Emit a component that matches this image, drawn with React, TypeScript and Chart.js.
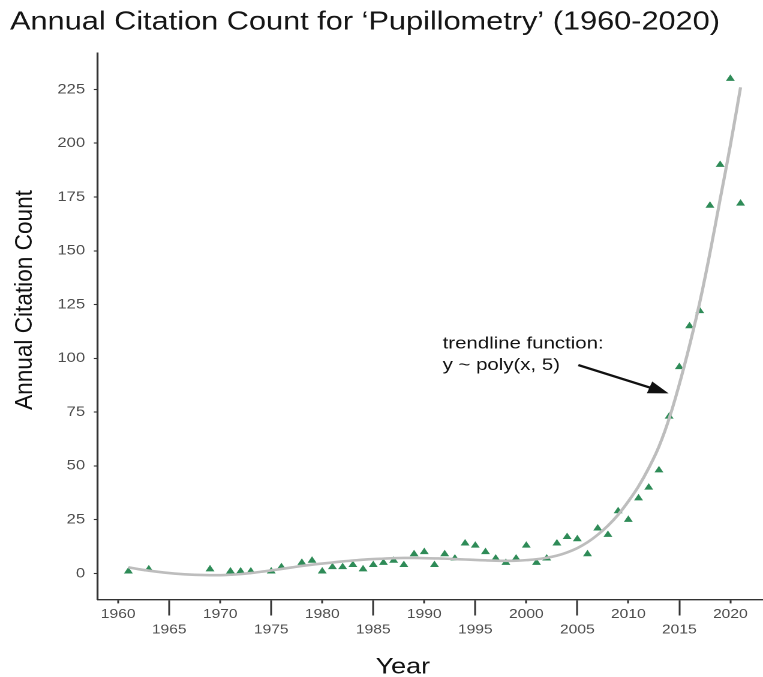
import React, { useEffect, useRef } from "react";
import { Chart, registerables } from "chart.js";

Chart.register(...registerables);

// Citation counts per publication year
const YEARS = [
  1961, 1963, 1969, 1971, 1972, 1973, 1975, 1976, 1978, 1979,
  1980, 1981, 1982, 1983, 1984, 1985, 1986, 1987, 1988, 1989,
  1990, 1991, 1992, 1993, 1994, 1995, 1996, 1997, 1998, 1999,
  2000, 2001, 2002, 2003, 2004, 2005, 2006, 2007, 2008, 2009,
  2010, 2011, 2012, 2013, 2014, 2015, 2016, 2017, 2018, 2019,
  2020, 2021,
];
const CITATIONS = [
  1, 2, 2, 1, 1, 1, 1, 3, 5, 6,
  1, 3, 3, 4, 2, 4, 5, 6, 4, 9,
  10, 4, 9, 7, 14, 13, 10, 7, 5, 7,
  13, 5, 7, 14, 17, 16, 9, 21, 18, 29,
  25, 35, 40, 48, 73, 96, 115, 122, 171, 190,
  230, 172,
];

// Fitted 5th-degree polynomial trend, sampled once per year
const TREND_YEARS = [
  1961, 1962, 1963, 1964, 1965, 1966, 1967, 1968, 1969, 1970,
  1971, 1972, 1973, 1974, 1975, 1976, 1977, 1978, 1979, 1980,
  1981, 1982, 1983, 1984, 1985, 1986, 1987, 1988, 1989, 1990,
  1991, 1992, 1993, 1994, 1995, 1996, 1997, 1998, 1999, 2000,
  2001, 2002, 2003, 2004, 2005, 2006, 2007, 2008, 2009, 2010,
  2011, 2012, 2013, 2014, 2015, 2016, 2017, 2018, 2019, 2020,
  2021,
];
const TREND_VALUES = [
  2.9, 2.0, 1.3, 0.7, 0.2, -0.2, -0.5, -0.7, -0.8, -0.8,
  -0.6, -0.3, 0.2, 0.8, 1.4, 2.1, 2.8, 3.5, 4.1, 4.6,
  5.1, 5.6, 6.0, 6.4, 6.7, 6.9, 7.1, 7.2, 7.2, 7.1,
  7.0, 6.9, 6.7, 6.5, 6.3, 6.1, 5.95, 5.9, 5.95, 6.2,
  6.6, 7.3, 8.3, 9.8, 11.8, 14.5, 18, 22.2, 27.3, 33.5,
  40.5, 49, 59, 72, 88, 106, 126, 149, 174, 199,
  226,
];

const X_TICKS = [1960, 1965, 1970, 1975, 1980, 1985, 1990, 1995, 2000, 2005, 2010, 2015, 2020];
const Y_TICKS = [0, 25, 50, 75, 100, 125, 150, 175, 200, 225];

const TITLE = "Annual Citation Count for ‘Pupillometry’ (1960-2020)";
const X_TITLE = "Year";
const Y_TITLE = "Annual Citation Count";
const NOTE_LINES = ["trendline function:", "y ~ poly(x, 5)"];
const NOTE_X = 1991.8;
const NOTE_Y = [104.6, 94.5];
const ARROW_FROM = [2005.1, 96.9];
const ARROW_TO = [2013.95, 83.7];

const FONT = '"Liberation Sans", Arial, Helvetica, sans-serif';

// The plot is laid out on a narrower canvas and widened horizontally.
const PAGE_W = 763;
const PAGE_H = 677;
const CANVAS_W = 636;
const STRETCH = PAGE_W / CANVAS_W;

const PAD_LEFT = 8.33;
const PLOT_LEFT = 81.5;
const PLOT_BOTTOM = 599.5;

const annotationPlugin = {
  id: "textAndArrow",
  afterDatasetsDraw(chart: any) {
    const { ctx } = chart;
    const xs = chart.scales.x;
    const ys = chart.scales.y;
    ctx.save();
    ctx.fillStyle = "#111";
    ctx.strokeStyle = "#111";

    // note text
    ctx.font = `17px ${FONT}`;
    ctx.textAlign = "left";
    ctx.textBaseline = "alphabetic";
    const nx = xs.getPixelForValue(NOTE_X);
    NOTE_LINES.forEach((t, i) => ctx.fillText(t, nx, ys.getPixelForValue(NOTE_Y[i])));

    // arrow pointing at the trend curve
    const x0 = xs.getPixelForValue(ARROW_FROM[0]);
    const y0 = ys.getPixelForValue(ARROW_FROM[1]);
    const x1 = xs.getPixelForValue(ARROW_TO[0]);
    const y1 = ys.getPixelForValue(ARROW_TO[1]);
    const ang = Math.atan2(y1 - y0, x1 - x0);
    const headLen = 17;
    const headHalf = 6.3;
    const bx = x1 - headLen * Math.cos(ang);
    const by = y1 - headLen * Math.sin(ang);
    ctx.lineWidth = 2.3;
    ctx.beginPath();
    ctx.moveTo(x0, y0);
    ctx.lineTo(bx + Math.cos(ang), by + Math.sin(ang));
    ctx.stroke();
    ctx.beginPath();
    ctx.moveTo(x1, y1);
    ctx.lineTo(bx + headHalf * Math.sin(ang), by - headHalf * Math.cos(ang));
    ctx.lineTo(bx - headHalf * Math.sin(ang), by + headHalf * Math.cos(ang));
    ctx.closePath();
    ctx.fill();
    ctx.restore();
  },
  afterDraw(chart: any) {
    const { ctx } = chart;
    ctx.save();
    ctx.fillStyle = "#111";
    // x axis title
    ctx.font = `22.5px ${FONT}`;
    ctx.textAlign = "center";
    ctx.textBaseline = "alphabetic";
    ctx.fillText(X_TITLE, 335.8, 673.3);
    // y axis title
    ctx.translate(26.7, 300);
    ctx.rotate(-Math.PI / 2);
    ctx.scale(1.13, 1);
    ctx.font = `20px ${FONT}`;
    ctx.fillText(Y_TITLE, 0, 0);
    ctx.restore();
  },
};

export default function App() {
  const canvasRef = useRef<HTMLCanvasElement | null>(null);

  useEffect(() => {
    const canvas = canvasRef.current;
    if (!canvas) return;
    const chart = new Chart(canvas, {
      type: "scatter",
      data: {
        datasets: [
          {
            type: "line",
            data: TREND_YEARS.map((x, i) => ({ x, y: TREND_VALUES[i] })),
            borderColor: "#bdbdbd",
            borderWidth: 2.6,
            pointRadius: 0,
            pointHoverRadius: 0,
            tension: 0.4,
            fill: false,
          } as any,
          {
            data: YEARS.map((x, i) => ({ x, y: CITATIONS[i] })),
            pointStyle: "triangle",
            pointRadius: 4.3,
            pointHoverRadius: 4.3,
            pointBackgroundColor: "#2e8b57",
            pointBorderColor: "#2e8b57",
            pointBorderWidth: 0,
            backgroundColor: "#2e8b57",
          },
        ],
      },
      options: {
        responsive: false,
        animation: false,
        devicePixelRatio: 2,
        layout: { autoPadding: false, padding: { left: PAD_LEFT, right: 0, top: 0, bottom: 0 } },
        plugins: {
          legend: { display: false },
          tooltip: { enabled: false },
          title: {
            display: true,
            text: TITLE,
            align: "start",
            color: "#151515",
            font: { family: FONT, size: 25.6, weight: "normal", lineHeight: 1.2 },
            padding: { top: 7.1, bottom: 15.7 },
          },
        },
        scales: {
          x: {
            type: "linear",
            min: 1958,
            max: 2023.2,
            afterBuildTicks: (s: any) => {
              s.ticks = X_TICKS.map((v) => ({ value: v }));
            },
            afterFit: (s: any) => {
              s.height = PAGE_H - PLOT_BOTTOM;
            },
            border: { display: true, color: "#333", width: 1.4 },
            grid: {
              display: true,
              drawOnChartArea: false,
              drawTicks: true,
              tickLength: 16,
              tickColor: "#333",
              tickWidth: 1.5,
              tickBorderDash: (c: any) => (c.tick && c.tick.value % 10 === 0 ? [3, 100] : []),
            },
            ticks: {
              padding: -9,
              color: "#4d4d4d",
              autoSkip: false,
              maxRotation: 0,
              minRotation: 0,
              font: { family: FONT, size: 13, lineHeight: 1.2 },
              callback: (v: any) => (Number(v) % 10 === 0 ? [String(v), ""] : ["", String(v)]),
            },
          },
          y: {
            type: "linear",
            min: -12.1,
            max: 241.7,
            afterBuildTicks: (s: any) => {
              s.ticks = Y_TICKS.map((v) => ({ value: v }));
            },
            afterFit: (s: any) => {
              s.width = PLOT_LEFT - PAD_LEFT;
            },
            border: { display: true, color: "#333", width: 1.6 },
            grid: {
              display: true,
              drawOnChartArea: false,
              drawTicks: true,
              tickLength: 3.3,
              tickColor: "#333",
              tickWidth: 1.1,
            },
            ticks: {
              padding: 7.3,
              color: "#4d4d4d",
              font: { family: FONT, size: 13.8 },
              callback: (v: any) => String(v),
            },
          },
        },
      },
      plugins: [annotationPlugin],
    } as any);
    return () => chart.destroy();
  }, []);

  return (
    <div
      style={{
        position: "absolute",
        left: 0,
        top: 0,
        width: PAGE_W,
        height: PAGE_H,
        overflow: "hidden",
        background: "#fff",
      }}
    >
      <div
        style={{
          width: CANVAS_W,
          height: PAGE_H,
          transform: `scaleX(${STRETCH})`,
          transformOrigin: "0 0",
        }}
      >
        <canvas ref={canvasRef} width={CANVAS_W} height={PAGE_H} style={{ display: "block" }} />
      </div>
    </div>
  );
}
